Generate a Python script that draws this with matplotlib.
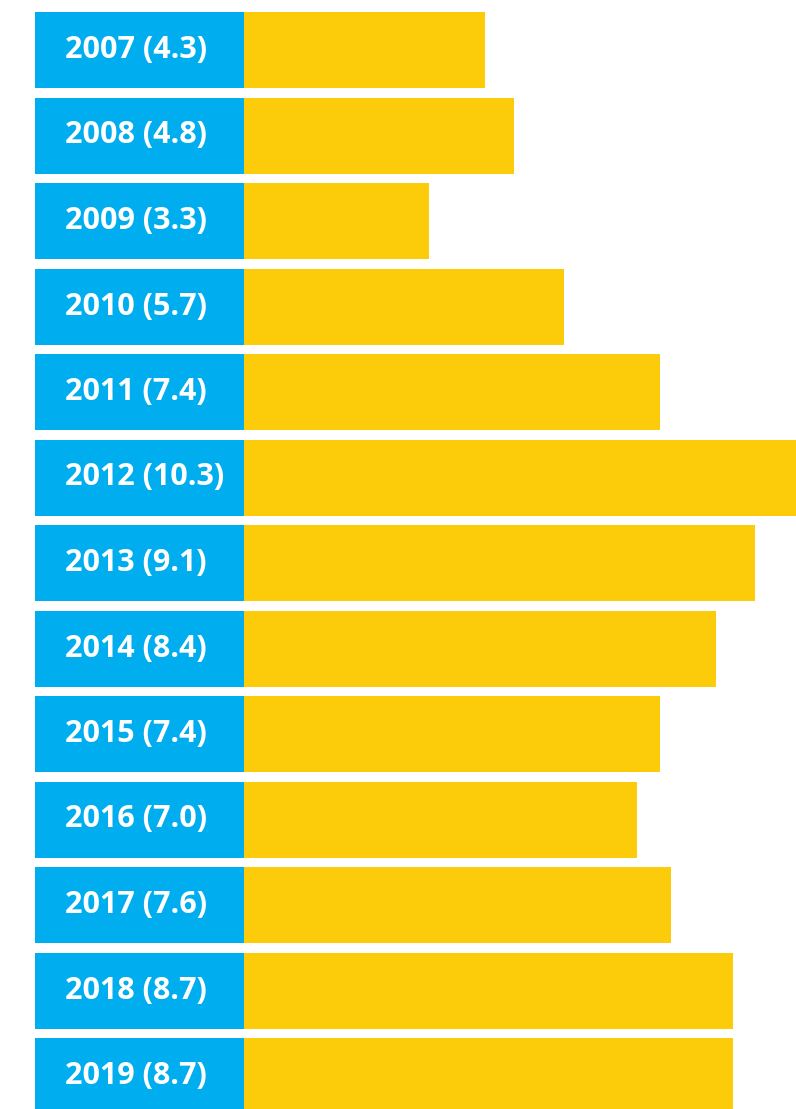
import matplotlib.pyplot as plt
import numpy as np

years = ["2007", "2008", "2009", "2010", "2011", "2012", "2013",
         "2014", "2015", "2016", "2017", "2018", "2019"]
values = [4.3, 4.8, 3.3, 5.7, 7.4, 10.3, 9.1, 8.4, 7.4, 7.0, 7.6, 8.7, 8.7]

blue = "#00aeef"
yellow = "#fccc0a"

W, H = 796, 1109
px_per_unit = 56.15      # horizontal scale of the yellow bars
pitch = 85.5             # row spacing in pixels
label_w = 209 / px_per_unit   # width of the blue label box, in data units

fig = plt.figure(figsize=(W / 100, H / 100), dpi=100)
ax = fig.add_axes([0, 0, 1, 1])

y = np.arange(len(years))
ax.barh(y, values, height=76 / pitch, left=0, color=yellow, linewidth=0)
ax.barh(y, label_w, height=76 / pitch, left=-label_w, color=blue, linewidth=0)

text_x = -(244 - 65) / px_per_unit
for yi, yr, v in zip(y, years, values):
    ax.text(text_x, yi, f"{yr} ({v})", color="white", fontsize=22,
            fontweight="bold", family="Open Sans", ha="left", va="center")

ax.set_xlim(-244 / px_per_unit, (W - 244) / px_per_unit)
ax.set_ylim((H - 50) / pitch, -50 / pitch)
ax.axis("off")

fig.savefig("out.png", dpi=100)
